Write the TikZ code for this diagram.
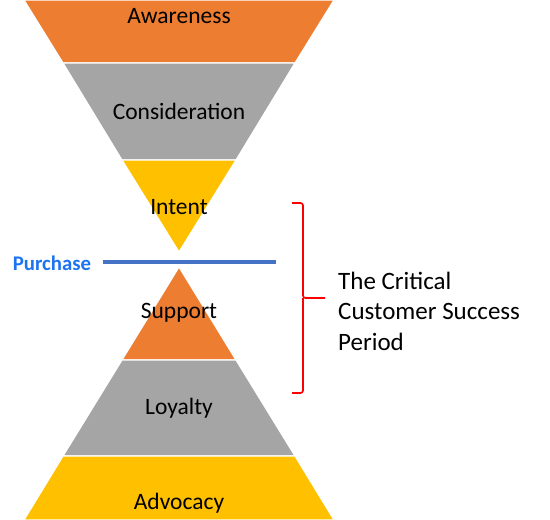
\documentclass[tikz,border=0pt]{standalone}
\usepackage{fontspec}
\setmainfont{Carlito}
\usepackage{xcolor}
\usepackage{tikz}
\usetikzlibrary{positioning, calc}

\definecolor{bandorange}{HTML}{ED7D31}
\definecolor{bandgray}{HTML}{A5A5A5}
\definecolor{bandgold}{HTML}{FFC000}
\definecolor{lineblue}{HTML}{4472C4}
\definecolor{textblue}{HTML}{1C74F0}
\definecolor{bracered}{HTML}{FF0000}

\tikzset{
  %% Funnel band
  band/.style={
    fill=#1, draw=white, line width=1.2pt, line join=miter
  },
  band/.default=bandgray,
  %% Band label
  blabel/.style={
    font=\fontsize{23.5}{28}\selectfont, text=black,
    inner sep=0pt, anchor=center
  },
  %% Purchase marker
  pline/.style={draw=lineblue, line width=3.2pt},
  %% Bracket
  brk/.style={draw=bracered, line width=1.7pt, rounded corners=2.5pt},
}

\begin{document}
\begin{tikzpicture}[x=1pt, y=-1pt]
  \useasboundingbox (0,0) rectangle (550,520);

  %% Upper funnel
  \fill[band=bandorange] (24,0) -- (334,0) -- (295,63) -- (63,63) -- cycle;
  \fill[band=bandgray]   (63,63) -- (295,63) -- (236,160) -- (122,160) -- cycle;
  \fill[band=bandgold]   (122,160) -- (236,160) -- (179,252) -- cycle;

  %% Lower pyramid
  \fill[band=bandorange] (179,267) -- (236,360) -- (122,360) -- cycle;
  \fill[band=bandgray]   (122,360) -- (236,360) -- (295,456) -- (63,456) -- cycle;
  \fill[band=bandgold]   (63,456) -- (295,456) -- (334,520) -- (24,520) -- cycle;

  \node[blabel] (aware)   at (179,16)  {Awareness};
  \node[blabel] (consid)  at (179,111) {Consideration};
  \node[blabel] (intent)  at (179,207) {Intent};
  \node[blabel] (support) at (179,313) {Support};
  \node[blabel] (loyal)   at (179,408) {Loyalty};
  \node[blabel] (advoc)   at (179,503) {Advocacy};

  %% Purchase
  \node[font=\fontsize{20.8}{24}\selectfont\bfseries, text=textblue,
        inner sep=0pt] (purch) at (52,263) {Purchase};
  \coordinate (pl) at (103,262);
  \coordinate (pr) at (276,262);
  \draw[pline] (pl) -- (pr);

  %% Bracket
  \coordinate (btop) at (292,203);
  \coordinate (bbot) at (292,393);
  \coordinate (bmid) at (325,298);
  \draw[brk] (btop) -- (303,203) -- (303,298) -- (bmid);
  \draw[brk] (bbot) -- (303,393) -- (303,298);

  \node[font=\fontsize{25}{30.5}\selectfont, align=left, anchor=west,
        inner sep=0pt] (period) at (338,311)
       {The Critical\\Customer Success\\Period};

\end{tikzpicture}
\end{document}
